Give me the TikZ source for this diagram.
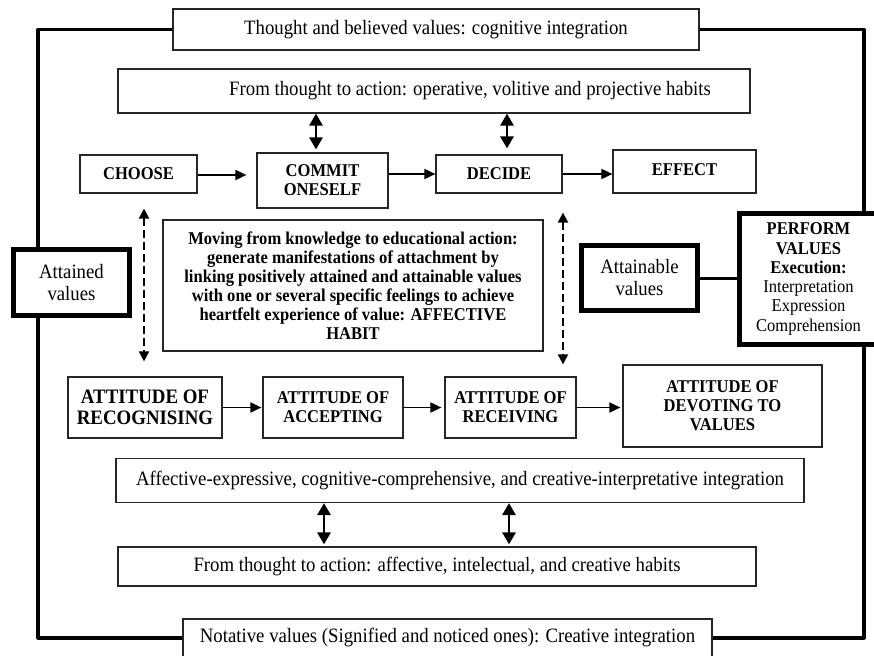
\documentclass[tikz,border=0pt]{standalone}
\usepackage{fontspec}
\setmainfont{Liberation Serif}[FakeStretch=0.92]
\usetikzlibrary{arrows.meta}
\begin{document}
\begin{tikzpicture}[x=1pt,y=-1pt,
  box/.style={draw=black!85, line width=1.2pt, fill=white, inner sep=0pt, align=center,
    font=\fontsize{20.4}{22}\selectfont},
  bbox/.style={box, font=\fontsize{18}{19}\selectfont\bfseries},
  thickbox/.style={box, line width=5pt, draw=black},
  frame/.style={line width=3.2pt, draw=black, line join=round},
  harrow/.style={line width=1.8pt, -{Triangle[width=10pt,length=11pt]}},
  darrow/.style={line width=2.8pt, {Triangle[width=13pt,length=12pt]}-{Triangle[width=13pt,length=12pt]}},
  dasharrow/.style={line width=2pt, dash pattern=on 8pt off 4pt,
    {Triangle[width=10pt,length=10pt]}-{Triangle[width=10pt,length=10pt]}}
]
\useasboundingbox (0,0) rectangle (874,655);
\coordinate (fl) at (38,0);
\coordinate (fr) at (864,0);

% top boxes
\node[box, minimum width=526pt, minimum height=41pt] (title) at (436,29.5)
  {Thought and believed values: cognitive integration};
\node[box, minimum width=632pt, minimum height=44pt] (op) at (434,91)
  {\hspace*{72pt}From thought to action: operative, volitive and projective habits};

% upper row
\node[bbox, minimum width=117pt, minimum height=38pt] (choose) at (138.5,174) {CHOOSE};
\node[bbox, minimum width=131pt, minimum height=55pt] (commit) at (322.5,180.5) {COMMIT\\ONESELF};
\node[bbox, minimum width=126pt, minimum height=38pt] (decide) at (499,174) {DECIDE};
\node[bbox, minimum width=143pt, minimum height=43pt] (effect) at (684.5,171.5) {\raisebox{3.5pt}{EFFECT}};

% middle
\node[bbox, minimum width=380pt, minimum height=131pt] (middle) at (353,285.5)
  {Moving from knowledge to educational action:\\
   generate manifestations of attachment by\\
   linking positively attained and attainable values\\
   with one or several specific feelings to achieve\\
   heartfelt experience of value: AFFECTIVE\\
   HABIT};
\node[thickbox, minimum width=116pt, minimum height=66pt] (attained) at (71.5,282.5)
  {Attained\\values};
\node[thickbox, minimum width=116pt, minimum height=65pt] (attainable) at (639.5,278)
  {Attainable\\values};
\node[thickbox, minimum width=138pt, minimum height=131pt,
  font=\fontsize{18}{19.3}\selectfont] (perform) at (808.5,279)
  {\textbf{PERFORM}\\\textbf{VALUES}\\\textbf{Execution:}\\Interpretation\\Expression\\Comprehension};

% lower row
\node[bbox, minimum width=154pt, minimum height=61pt, font=\fontsize{20.5}{20.5}\selectfont\bfseries]
  (recog) at (145,407.5) {ATTITUDE OF\\RECOGNISING};
\node[bbox, minimum width=140pt, minimum height=61pt] (accept) at (333,407.5) {ATTITUDE OF\\ACCEPTING};
\node[bbox, minimum width=131pt, minimum height=61pt] (receive) at (510.5,407.5) {ATTITUDE OF\\RECEIVING};
\node[bbox, minimum width=199pt, minimum height=82pt] (devote) at (722.5,406)
  {\raisebox{3pt}{\parbox{190pt}{\centering ATTITUDE OF\\DEVOTING TO\\VALUES}}};

% bottom boxes
\node[box, minimum width=688pt, minimum height=44pt] (affect) at (460,480.5)
  {Affective-expressive, cognitive-comprehensive, and creative-interpretative integration};
\node[box, minimum width=638pt, minimum height=39pt] (habits) at (437,566.5)
  {From thought to action: affective, intelectual, and creative habits};
\node[box, minimum width=529pt, minimum height=38pt] (bottom) at (447.5,638)
  {Notative values (Signified and noticed ones): Creative integration};

% outer frame
\draw[frame] (title.west) -| (fl |- attained.north);
\draw[frame] (fl |- attained.south) |- (bottom.west);
\draw[frame] (title.east) -| (fr |- perform.north);
\draw[frame] (fr |- perform.south) |- (bottom.east);
\draw[line width=3pt] (attainable.east) -- (attainable.east -| perform.west);

% upper arrows
\draw[harrow, shorten >=10pt] ([yshift=-1pt]choose.east) -- ([yshift=-1pt]choose.east -| commit.west);
\draw[harrow] (decide.west -| commit.east) -- (decide.west);
\draw[harrow] (decide.east) -- (decide.east -| effect.west);
\draw[darrow, shorten >=3pt] ([xshift=-6.5pt]commit.north |- op.south) -- ([xshift=-6.5pt]commit.north);
\draw[darrow, shorten >=6pt] ([xshift=8pt]decide.north |- op.south) -- ([xshift=8pt]decide.north);

% dashed arrows
\draw[dasharrow, shorten <=15pt, shorten >=15pt]
  ([xshift=5.5pt]choose.south) -- ([xshift=5.5pt]choose.south |- recog.north);
\draw[dasharrow, shorten <=19pt, shorten >=12pt]
  ([xshift=52.5pt]receive.north |- decide.south) -- ([xshift=52.5pt]receive.north);

% lower arrows
\draw[harrow, shorten >=1pt] (recog.east) -- (accept.west);
\draw[harrow, shorten >=3pt] (accept.east) -- (receive.west);
\draw[harrow, shorten >=2pt] (receive.east) -- (receive.east -| devote.west);

% bottom double arrows
\draw[darrow, shorten >=2pt] ([xshift=-136pt]affect.south) -- ([xshift=-136pt]affect.south |- habits.north);
\draw[darrow, shorten >=2pt] ([xshift=49pt]affect.south) -- ([xshift=49pt]affect.south |- habits.north);
\end{tikzpicture}
\end{document}
